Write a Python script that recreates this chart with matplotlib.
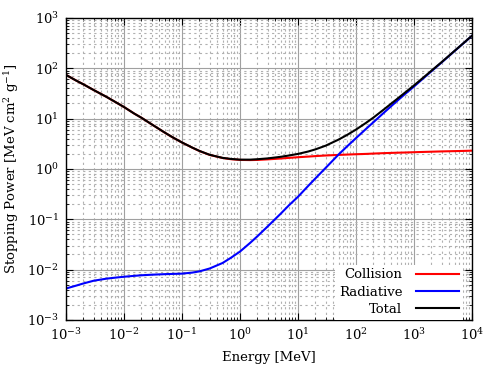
import matplotlib
matplotlib.use("Agg")
import matplotlib.pyplot as plt
import numpy as np

plt.rcParams['font.family'] = ['DejaVu Serif']
plt.rcParams['mathtext.fontset'] = 'dejavuserif'
plt.rcParams['font.size'] = 9

# energy grid [MeV]
energy = [0.001, 0.0015, 0.002, 0.003, 0.005, 0.007, 0.01, 0.015, 0.02, 0.03,
          0.05, 0.07, 0.1, 0.15, 0.2, 0.3, 0.5, 0.7, 1, 1.5, 2, 3, 5, 7, 10,
          15, 20, 30, 50, 70, 100, 150, 200, 300, 500, 700, 1000, 1500, 2000,
          3000, 5000, 7000, 10000]

collision = [74, 57, 48, 37, 27, 21.6, 17, 12.6, 10.4, 7.7,
             5.3, 4.2, 3.35, 2.65, 2.27, 1.9, 1.65, 1.56, 1.51, 1.50, 1.51, 1.55, 1.61, 1.66, 1.71,
             1.76, 1.80, 1.85, 1.90, 1.93, 1.96, 1.99, 2.02, 2.06, 2.10, 2.12, 2.15, 2.18, 2.20,
             2.23, 2.26, 2.28, 2.31]

radiative = [0.0042, 0.0048, 0.0053, 0.0060, 0.0066, 0.0069, 0.0072, 0.0075, 0.0077, 0.0079,
             0.0081, 0.0082, 0.0083, 0.0087, 0.0092, 0.0105, 0.0135, 0.0172, 0.0228, 0.034, 0.046, 0.072, 0.128, 0.19, 0.28,
             0.46, 0.65, 1.05, 1.93, 2.8, 4.1, 6.3, 8.5, 13.0, 22.0, 30.8, 43.5, 65.5, 87.5,
             131, 220, 309, 443]

total = [74.0, 57.0, 48.0, 37.0, 27.0, 21.6, 17.0, 12.6, 10.4, 7.71,
         5.31, 4.21, 3.36, 2.66, 2.28, 1.91, 1.66, 1.58, 1.53, 1.53, 1.56, 1.62, 1.74, 1.85, 1.99,
         2.22, 2.45, 2.90, 3.83, 4.73, 6.06, 8.29, 10.5, 15.1, 24.1, 32.9, 45.7, 67.7, 89.7,
         133, 222, 311, 445]

fig = plt.figure(figsize=(5, 3.75), dpi=100)
ax = fig.add_axes([0.132, 0.147, 0.812, 0.805])

ax.plot(energy, collision, color='#ff0000', lw=1.5, label='Collision')
ax.plot(energy, radiative, color='#0000ff', lw=1.5, label='Radiative')
ax.plot(energy, total, color='black', lw=1.5, label='Total')

ax.set_xscale('log')
ax.set_yscale('log')
ax.set_xlim(1e-3, 1e4)
ax.set_ylim(1e-3, 1e3)
ax.xaxis.set_major_locator(matplotlib.ticker.LogLocator(base=10, numticks=20))
ax.yaxis.set_major_locator(matplotlib.ticker.LogLocator(base=10, numticks=20))
ax.xaxis.set_minor_locator(matplotlib.ticker.LogLocator(base=10, subs=np.arange(2, 10), numticks=20))
ax.yaxis.set_minor_locator(matplotlib.ticker.LogLocator(base=10, subs=np.arange(2, 10), numticks=20))
ax.xaxis.set_minor_formatter(matplotlib.ticker.NullFormatter())
ax.yaxis.set_minor_formatter(matplotlib.ticker.NullFormatter())

ax.grid(which='major', color='#a0a0a0', lw=0.8, ls='-')
ax.grid(which='minor', color='#b0b0b0', lw=0.8, ls=(0, (2, 3)))
ax.set_axisbelow(True)

ax.tick_params(which='both', direction='in', top=True, right=True)
ax.tick_params(which='major', length=5, labelsize=9.5, pad=5)
ax.tick_params(which='minor', length=2.5)
for s in ax.spines.values():
    s.set_linewidth(1.0)

ax.set_xlabel('Energy [MeV]', fontsize=9.5, labelpad=6)
ax.set_ylabel('Stopping Power [MeV cm$^2$ g$^{-1}$]', fontsize=9.5, labelpad=4)

leg = ax.legend(loc='lower right', bbox_to_anchor=(0.978, 0.0), markerfirst=False,
                frameon=True, facecolor='white', edgecolor='none', framealpha=1,
                fancybox=False, handlelength=3.3, handletextpad=1.0, labelspacing=0.32,
                borderaxespad=0.0, borderpad=0.3, fontsize=9.5)

fig.savefig('out.png', dpi=100)
